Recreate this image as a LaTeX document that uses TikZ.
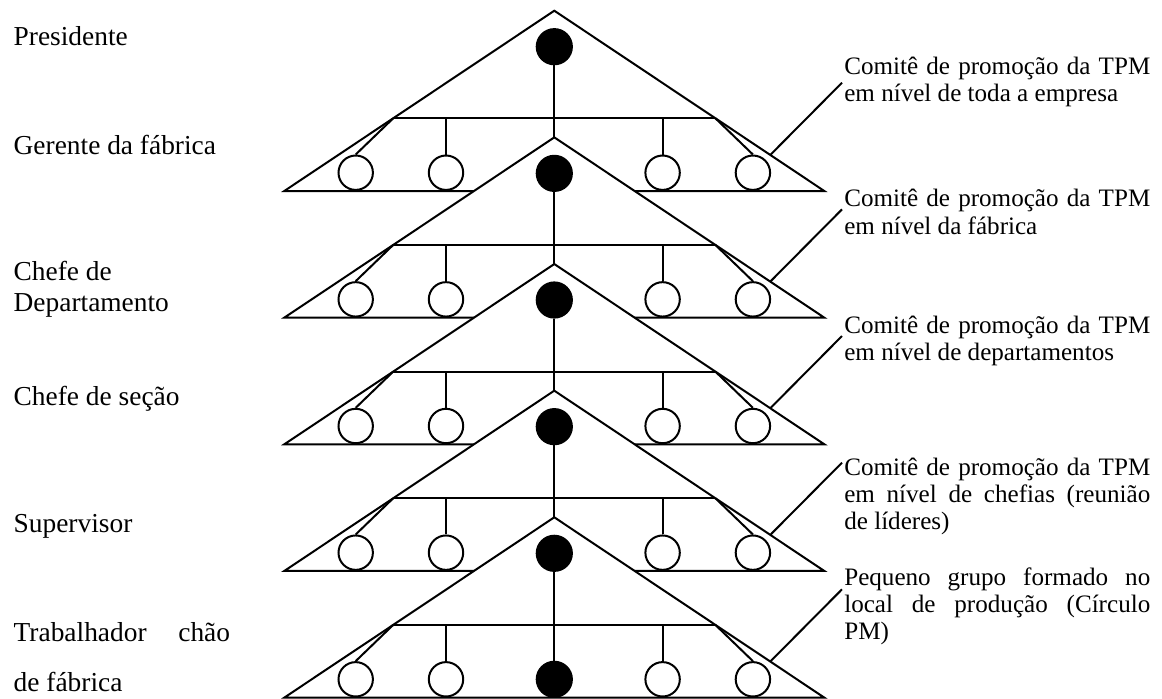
\documentclass[tikz,border=0pt]{standalone}
\usepackage{fontspec}
\setmainfont{Liberation Serif}
\begin{document}
\begin{tikzpicture}[x=0.5pt,y=-0.5pt,line width=1pt,
  blackdot/.style={circle,draw,fill=black,minimum size=17.6pt,inner sep=0pt},
  whitedot/.style={circle,draw,fill=white,minimum size=17.2pt,inner sep=0pt},
  levelname/.style={anchor=base west,inner sep=0pt,font=\fontsize{13.7pt}{15.85pt}\selectfont},
  committee/.style={anchor=base west,inner sep=0pt,font=\fontsize{12.55pt}{13.65pt}\selectfont}]
\useasboundingbox (0,0) rectangle (1162,698);

% five stacked committee triangles, each with its chair and four members
\foreach \k in {0,...,4} {
  \pgfmathsetmacro\ay{10.7+126.65*\k}
  \coordinate (apex\k) at (554.3,\ay);
  \coordinate (bl\k) at (284.3,{\ay+180.3});
  \coordinate (br\k) at (824.3,{\ay+180.3});
  \draw[fill=white] (apex\k) -- (bl\k) -- (br\k) -- cycle;
  \node[blackdot] (top\k) at (554.3,{\ay+36}) {};
  % horizontal bar between the two sides
  \coordinate (barL\k) at ({554.3-161.1},{\ay+107.6});
  \coordinate (barR\k) at ({554.3+161.1},{\ay+107.6});
  \coordinate (barA\k) at ({554.3-108.3},{\ay+107.6});
  \coordinate (barB\k) at ({554.3+108.3},{\ay+107.6});
  \draw (barL\k) -- (barR\k);
  % members of the committee
  \node[whitedot] (ma\k) at ({554.3-198.6},{\ay+162}) {};
  \node[whitedot] (mb\k) at ({554.3-108.3},{\ay+162}) {};
  \node[whitedot] (mc\k) at ({554.3+108.3},{\ay+162}) {};
  \node[whitedot] (md\k) at ({554.3+198.6},{\ay+162}) {};
  \draw (barL\k) -- (ma\k.north);
  \draw (barA\k) -- (mb\k.north);
  \draw (barB\k) -- (mc\k.north);
  \draw (barR\k) -- (md\k.north);
  % leader towards the committee description
  \coordinate (lead\k) at ({554.3+216},{\ay+144.2});
  \coordinate (tip\k) at (842,{\ay+72});
  \draw (lead\k) -- (tip\k);
  \coordinate (next\k) at (554.3,{\ay+126.65});
}
% chair line linking each level to the one below
\foreach \k in {0,...,3} {
  \draw (top\k.south) -- (next\k);
}
\node[blackdot] (bottom) at (554.3,679.3) {};
\draw (top4.south) -- (bottom.north);

% hierarchy levels
\node[levelname] (lv1) at (12.7,45.7) {Presidente};
\node[levelname] (lv2) at (12.7,154) {Gerente da fábrica};
\node[levelname] (lv3) at (12.7,280) {\vtop{\baselineskip=15.85pt\hbox{Chefe de}\hbox{Departamento}}};
\node[levelname] (lv4) at (12.7,405.7) {Chefe de seção};
\node[levelname] (lv5) at (12.7,532.7) {Supervisor};
\node[levelname] (lv6) at (12.7,641.7) {\vtop{\baselineskip=25pt\hbox{\makebox[108.2pt][s]{Trabalhador chão}}\hbox{de fábrica}}};

% committee descriptions
\node[committee] (cm1) at (843.3,74.3) {\vtop{\baselineskip=13.65pt\hbox{\makebox[153pt][s]{Comitê de promoção da TPM}}\hbox{em nível de toda a empresa}}};
\node[committee] (cm2) at (843.3,206.7) {\vtop{\baselineskip=13.65pt\hbox{\makebox[153pt][s]{Comitê de promoção da TPM}}\hbox{em nível da fábrica}}};
\node[committee] (cm3) at (843.3,333.3) {\vtop{\baselineskip=13.65pt\hbox{\makebox[153pt][s]{Comitê de promoção da TPM}}\hbox{em nível de departamentos}}};
\node[committee] (cm4) at (843.3,475) {\vtop{\baselineskip=13.65pt\hbox{\makebox[153pt][s]{Comitê de promoção da TPM}}\hbox{\makebox[153pt][s]{em nível de chefias (reunião}}\hbox{de líderes)}}};
\node[committee] (cm5) at (843.3,585) {\vtop{\baselineskip=13.65pt\hbox{\makebox[153pt][s]{Pequeno grupo formado no}}\hbox{\makebox[153pt][s]{local de produção (Círculo}}\hbox{PM)}}};
\end{tikzpicture}
\end{document}
